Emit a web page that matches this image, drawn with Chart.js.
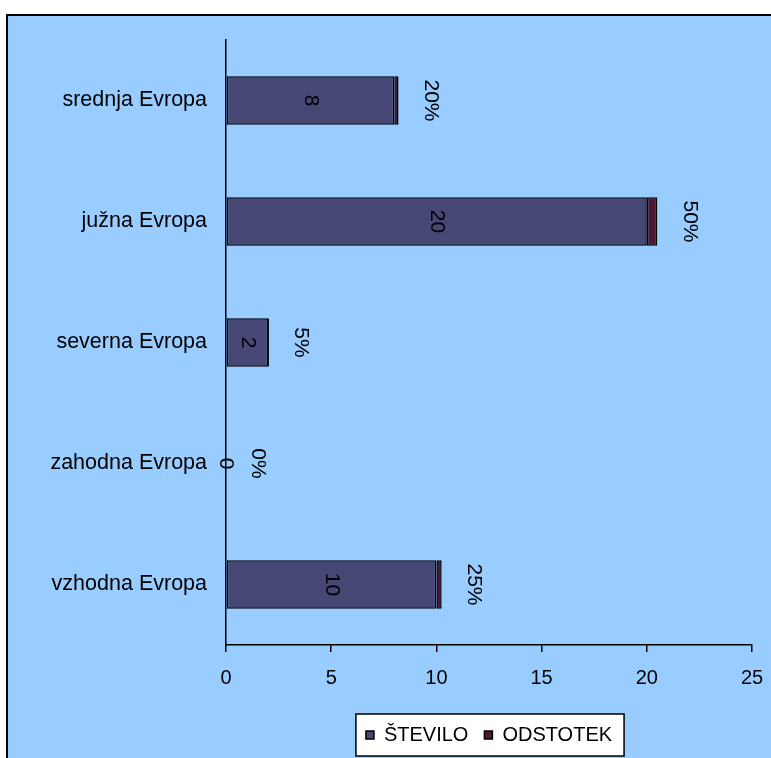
<!DOCTYPE html>
<html>
<head>
<meta charset="utf-8">
<script src="https://cdn.jsdelivr.net/npm/chart.js@4/dist/chart.umd.min.js"></script>
<style>
  html, body { margin: 0; padding: 0; background: #fff; }
  #frame {
    position: absolute; left: 6px; top: 14px;
    width: 763px; height: 742px;
    border-left: 2px solid #000; border-top: 2px solid #000;
    background: #99CCFF;
  }
  canvas { display: block; }
</style>
</head>
<body>
<div id="frame"><canvas id="chart" width="763" height="742"></canvas></div>
<script>
// regions, top to bottom as in the picture
const regions = ['srednja Evropa', 'južna Evropa', 'severna Evropa', 'zahodna Evropa', 'vzhodna Evropa'];
const stevilo = [8, 20, 2, 0, 10];
const odstotek = [0.20, 0.50, 0.05, 0, 0.25];
const xTicks = [0, 5, 10, 15, 20, 25];

const FONT = "'Liberation Sans', Arial, sans-serif";

// white legend box with black frame
const legendFrame = {
  id: 'legendFrame',
  beforeDraw(chart) {
    const hb = chart.legend.legendHitBoxes;
    if (!hb || !hb.length) return;
    const ctx = chart.ctx;
    const left = hb[0].left - 10;
    const right = hb[hb.length - 1].left + hb[hb.length - 1].width + 12;
    const top = hb[0].top - 11;
    const bottom = hb[0].top + hb[0].height + 11;
    ctx.save();
    ctx.fillStyle = '#fff';
    ctx.fillRect(left, top, right - left, bottom - top);
    ctx.strokeStyle = '#000';
    ctx.lineWidth = 1.5;
    ctx.strokeRect(left, top, right - left, bottom - top);
    ctx.restore();
  }
};

// rotated value labels
const barLabels = {
  id: 'barLabels',
  afterDatasetsDraw(chart) {
    const ctx = chart.ctx;
    ctx.save();
    ctx.font = '21px ' + FONT;
    ctx.fillStyle = '#000';
    ctx.textAlign = 'center';
    ctx.textBaseline = 'middle';
    chart.data.datasets.forEach((ds, di) => {
      chart.getDatasetMeta(di).data.forEach((bar, i) => {
        let x, txt;
        if (di === 0) {
          x = (bar.x + bar.base) / 2;
          txt = String(ds.data[i]);
        } else {
          x = bar.x + 32;
          txt = Math.round(ds.data[i] * 100) + '%';
        }
        ctx.save();
        ctx.translate(x, bar.y);
        ctx.rotate(Math.PI / 2);
        ctx.fillText(txt, 0, 0);
        ctx.restore();
      });
    });
    ctx.restore();
  }
};

new Chart(document.getElementById('chart'), {
  type: 'bar',
  data: {
    labels: regions,
    datasets: [
      {
        label: 'ŠTEVILO',
        data: stevilo,
        backgroundColor: '#474775',
        borderColor: '#000',
        borderWidth: 1.5,
        borderSkipped: false,
        barPercentage: 0.4,
        categoryPercentage: 1
      },
      {
        label: 'ODSTOTEK',
        data: odstotek,
        backgroundColor: '#4F1934',
        borderColor: '#000',
        borderWidth: 1.5,
        borderSkipped: false,
        barPercentage: 0.4,
        categoryPercentage: 1
      }
    ]
  },
  options: {
    indexAxis: 'y',
    responsive: false,
    animation: false,
    devicePixelRatio: 1,
    layout: { padding: { left: 0, top: 24, right: 19, bottom: 3 } },
    scales: {
      x: {
        stacked: true,
        min: 0,
        max: 25,
        afterBuildTicks: (s) => { s.ticks = xTicks.map(v => ({ value: v })); },
        afterFit: (s) => { s.height = 64; s.paddingLeft = 0; s.paddingRight = 0; },
        grid: { display: true, drawOnChartArea: false, drawTicks: true, tickLength: 7, color: '#000', lineWidth: 1.5 },
        border: { display: true, color: '#000', width: 1.5 },
        ticks: { color: '#000', padding: 14, font: { size: 20, family: FONT }, maxRotation: 0 }
      },
      y: {
        stacked: true,
        afterFit: (s) => { s.width = 218; s.paddingTop = 0; s.paddingBottom = 0; },
        grid: { display: false, drawTicks: false },
        border: { display: true, color: '#000', width: 1.5 },
        ticks: { color: '#000', padding: 19, font: { size: 21.5, family: FONT } }
      }
    },
    plugins: {
      legend: {
        position: 'bottom',
        fullSize: false,
        labels: {
          color: '#000',
          boxWidth: 8,
          boxHeight: 8,
          padding: 16,
          font: { size: 20, family: FONT }
        }
      },
      tooltip: { enabled: false }
    }
  },
  plugins: [legendFrame, barLabels]
});
</script>
</body>
</html>
